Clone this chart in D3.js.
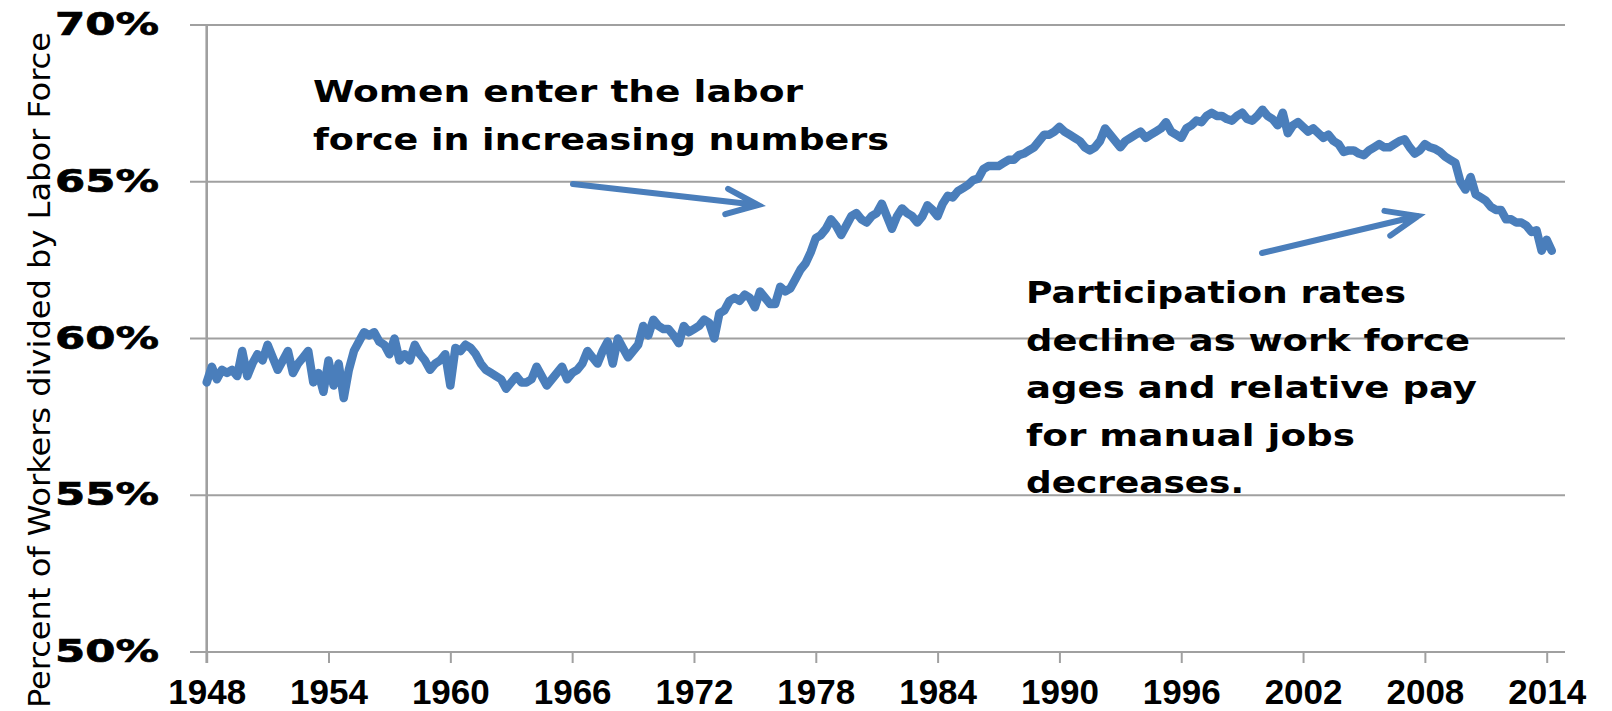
<!DOCTYPE html>
<html>
<head>
<meta charset="utf-8">
<script src="https://cdn.jsdelivr.net/npm/d3@7"></script>
<style>
	body { margin: 0; background: #fff; }
	svg { display: block; }
</style>
</head>
<body>
<div id="chart"></div>
<script>
/* labor force participation rate, quarterly */
const startYear = 1948;
const rateQ = [
	58.6, 59.1, 58.7, 59.0,  58.9, 59.0, 58.8, 59.6,  58.8, 59.2, 59.5, 59.3,
	59.8, 59.4, 59.0, 59.3,  59.6, 58.9, 59.2, 59.4,  59.6, 58.6, 58.9, 58.3,
	59.3, 58.5, 59.2, 58.1,  59.0, 59.6, 59.9, 60.2,  60.1, 60.2, 59.9, 59.8,
	59.5, 60.0, 59.3, 59.5,  59.3, 59.8, 59.5, 59.3,  59.0, 59.2, 59.3, 59.5,
	58.5, 59.7, 59.6, 59.8,  59.7, 59.5, 59.2, 59.0,  58.9, 58.8, 58.7, 58.4,
	58.6, 58.8, 58.6, 58.6,  58.7, 59.1, 58.8, 58.5,  58.7, 58.9, 59.1, 58.7,
	58.9, 59.0, 59.2, 59.6,  59.4, 59.2, 59.6, 59.9,  59.2, 60.0, 59.7, 59.4,
	59.6, 59.8, 60.4, 60.1,  60.6, 60.4, 60.3, 60.3,  60.1, 59.85, 60.4, 60.2,
	60.3, 60.4, 60.6, 60.5,  60.0, 60.8, 60.9, 61.2,  61.3, 61.2, 61.4, 61.3,
	61.0, 61.5, 61.3, 61.1,  61.1, 61.65, 61.5, 61.6,  61.9, 62.2, 62.4, 62.75,
	63.2, 63.3, 63.5, 63.8,  63.6, 63.3, 63.6, 63.9,  64.0, 63.8, 63.7, 63.9,
	64.0, 64.3, 63.9, 63.5,  63.9, 64.15, 64.0, 63.9,  63.7, 63.9, 64.25, 64.1,
	63.9, 64.3, 64.55, 64.5,  64.7, 64.8, 64.9, 65.05,  65.1, 65.4, 65.5, 65.5,
	65.5, 65.6, 65.7, 65.7,  65.85, 65.9, 66.0, 66.1,  66.3, 66.5, 66.5, 66.6,
	66.75, 66.6, 66.5, 66.4,  66.3, 66.1, 66.0, 66.1,  66.3, 66.7, 66.5, 66.3,
	66.1, 66.3, 66.4, 66.5,  66.6, 66.4, 66.5, 66.6,  66.7, 66.9, 66.6, 66.5,
	66.4, 66.7, 66.8, 66.95,  66.9, 67.1, 67.2, 67.1,  67.1, 67.0, 66.95, 67.1,
	67.2, 67.0, 66.95, 67.1,  67.3, 67.1, 67.0, 66.8,  67.2, 66.55, 66.8, 66.9,
	66.75, 66.6, 66.7, 66.55,  66.4, 66.5, 66.3, 66.2,  65.95, 66.0, 66.0, 65.9,
	65.85, 66.0, 66.1, 66.2,  66.1, 66.1, 66.2, 66.3,  66.35, 66.1, 65.9, 66.0,
	66.2, 66.1, 66.05, 65.95,  65.8, 65.7, 65.6, 65.0,  64.75, 65.15, 64.6, 64.5,
	64.4, 64.2, 64.1, 64.1,  63.8, 63.8, 63.7, 63.7,  63.6, 63.4, 63.45, 62.8,
	63.15, 62.8
];

const yTickValues = [50, 55, 60, 65, 70];
const xTickYears = [1948, 1954, 1960, 1966, 1972, 1978, 1984, 1990, 1996, 2002, 2008, 2014];
const yTitle = "Percent of Workers divided by Labor Force";
const noteWomen = ["Women enter the labor", "force in increasing numbers"];
const noteDecline = ["Participation rates", "decline as work force", "ages and relative pay", "for manual jobs", "decreases."];

let W = 1612, H = 711;
let plot = {L: 206.7, R: 1565, T: 25, B: 652, gridL: 190};
let blue = "#4a7ebb", grey = "#a0a0a0";

let svg = d3.select("#chart").append("svg")
	.attr("width", W)
	.attr("height", H);
svg.append("rect").attr("width", W).attr("height", H).attr("fill", "#fff");

let x = d3.scaleLinear().domain([1948, 2014]).range([plot.L, 1546.7]);
let y = d3.scaleLinear().domain([50, 70]).range([plot.B, plot.T]);

/* gridlines */
svg.append("g").selectAll("line")
	.data(yTickValues)
	.join("line")
	.attr("x1", plot.gridL)
	.attr("x2", plot.R)
	.attr("y1", (d) => y(d))
	.attr("y2", (d) => y(d))
	.attr("stroke", grey)
	.attr("stroke-width", 2);

/* y axis line */
svg.append("line")
	.attr("x1", plot.L).attr("x2", plot.L)
	.attr("y1", plot.T).attr("y2", plot.B + 11)
	.attr("stroke", grey)
	.attr("stroke-width", 2.6);

/* y tick labels */
let yAxis = svg.append("g")
	.attr("transform", `translate(159,0)`)
	.call(d3.axisLeft(y).tickValues(yTickValues).tickSize(0).tickPadding(0).tickFormat((d) => d + "%"));
yAxis.select(".domain").remove();
yAxis.selectAll("text")
	.attr("dy", null)
	.attr("y", 9.5)
	.attr("font-family", "DejaVu Sans")
	.attr("font-weight", "bold")
	.attr("font-size", 32)
	.attr("fill", "#000")
	.attr("stroke", "#000")
	.attr("stroke-width", 0.7)
	.attr("textLength", 104)
	.attr("lengthAdjust", "spacingAndGlyphs");

/* x axis ticks + labels */
let xAxis = svg.append("g")
	.attr("transform", `translate(0,${plot.B})`)
	.call(d3.axisBottom(x).tickValues(xTickYears).tickSizeInner(11).tickSizeOuter(0).tickPadding(0).tickFormat(d3.format("d")));
xAxis.select(".domain").remove();
xAxis.selectAll("line").attr("stroke", grey).attr("stroke-width", 2);
xAxis.selectAll("text")
	.attr("dy", null)
	.attr("y", 52)
	.attr("font-family", "Liberation Sans")
	.attr("font-weight", "bold")
	.attr("font-size", 35)
	.attr("fill", "#000");

/* y title */
svg.append("text")
	.attr("transform", "translate(50,370) rotate(-90)")
	.attr("text-anchor", "middle")
	.attr("font-family", "'Liberation Sans Narrow', 'DejaVu Sans Condensed', sans-serif")
	.attr("font-size", 31)
	.attr("fill", "#000")
	.attr("textLength", 676)
	.attr("lengthAdjust", "spacingAndGlyphs")
	.text(yTitle);

/* the series */
let line = d3.line()
	.x((d, i) => x(startYear + i / 4))
	.y((d) => y(d));
svg.append("path")
	.datum(rateQ)
	.attr("d", line)
	.attr("fill", "none")
	.attr("stroke", blue)
	.attr("stroke-width", 8.5)
	.attr("stroke-linejoin", "round")
	.attr("stroke-linecap", "round");

/* annotations */
function note(lines, x0, y0, lengths) {
	svg.append("g").selectAll("text")
		.data(lines)
		.join("text")
		.attr("x", x0)
		.attr("y", (d, i) => y0 + i * 47.5)
		.attr("font-family", "DejaVu Sans")
		.attr("font-weight", "bold")
		.attr("font-size", 31)
		.attr("fill", "#000")
		.attr("textLength", (d, i) => lengths[i])
		.attr("lengthAdjust", "spacingAndGlyphs")
		.text((d) => d);
}
note(noteWomen, 313, 102, [490, 576]);
note(noteDecline, 1026, 303, [380, 444, 451, 329, 218]);

function arrow(x1, y1, x2, y2) {
	let a = Math.atan2(y2 - y1, x2 - x1), len = 34, spread = 22 * Math.PI / 180;
	let w1 = [x2 - len * Math.cos(a - spread), y2 - len * Math.sin(a - spread)];
	let w2 = [x2 - len * Math.cos(a + spread), y2 - len * Math.sin(a + spread)];
	let p = d3.path();
	p.moveTo(x1, y1); p.lineTo(x2, y2);
	p.moveTo(w1[0], w1[1]); p.lineTo(x2, y2); p.lineTo(w2[0], w2[1]);
	svg.append("path")
		.attr("d", p.toString())
		.attr("fill", "none")
		.attr("stroke", blue)
		.attr("stroke-width", 6)
		.attr("stroke-linecap", "round")
		.attr("stroke-linejoin", "miter");
}
arrow(573, 184, 758, 205);
arrow(1262, 253, 1418, 216);
</script>
</body>
</html>
